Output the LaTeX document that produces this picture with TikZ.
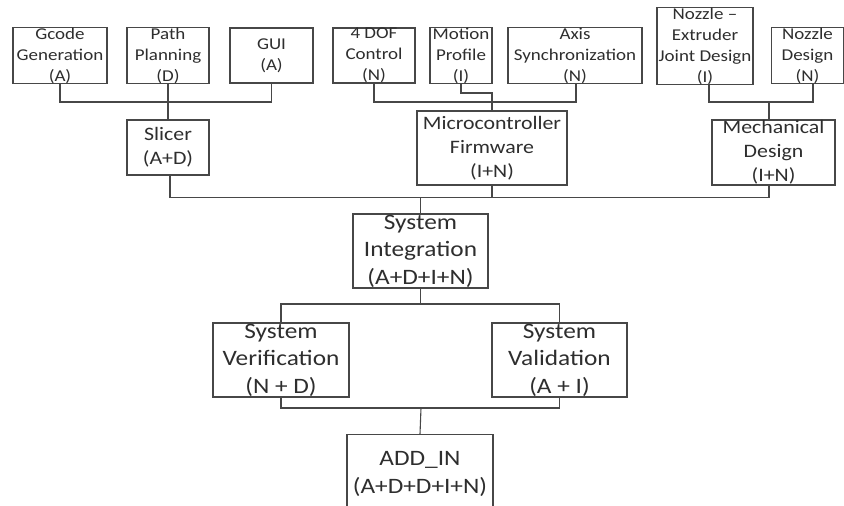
\documentclass[tikz,border=0pt]{standalone}
\usepackage{fontspec}
\setmainfont{Carlito}[FakeStretch=1.15]
\begin{document}
\begin{tikzpicture}[x=1pt,y=-1pt,
  box/.style={draw=black!72, line width=1.1pt, fill=white, inner sep=0pt, align=center, text=black!82},
  small/.style={box, font=\fontsize{16.5}{21}\selectfont},
  mid/.style={box, font=\fontsize{19}{24}\selectfont},
  big/.style={box, font=\fontsize{22}{27.5}\selectfont},
  wire/.style={draw=black!72, line width=1.1pt}]
\useasboundingbox (0,0) rectangle (844,506);
\clip (0,0) rectangle (844,506);

% leaf tasks
\node[small, minimum width=94, minimum height=55] (gcode) at (60,55.5) {Gcode\\Generation\\(A)};
\node[small, minimum width=82, minimum height=55] (path) at (168,55.5) {Path\\Planning\\(D)};
\node[small, minimum width=83, minimum height=55] (gui) at (271.5,55.5) {GUI\\(A)};
\node[small, minimum width=82, minimum height=55] (dof) at (374,55.5) {4 DOF\\Control\\(N)};
\node[small, minimum width=62, minimum height=55] (motion) at (461,55.5) {Motion\\Profile\\(I)};
\node[small, minimum width=134, minimum height=55] (axis) at (575,55.5) {Axis\\Synchronization\\(N)};
\node[small, minimum width=96, minimum height=74] (nozext) at (705,46) {Nozzle –\\Extruder\\Joint Design\\(I)};
\node[small, minimum width=72, minimum height=55] (nozzle) at (807.5,55.5) {Nozzle\\Design\\(N)};

% subsystems
\node[mid, minimum width=82, minimum height=55] (slicer) at (168,147.5) {Slicer\\(A+D)};
\node[mid, minimum width=150, minimum height=74] (mcu) at (492,148) {Microcontroller\\Firmware\\(I+N)};
\node[mid, minimum width=123, minimum height=65] (mech) at (773.5,152.5) {Mechanical\\Design\\(I+N)};

% integration and test
\node[big, minimum width=135, minimum height=74] (si) at (420.5,251) {System\\Integration\\(A+D+I+N)};
\node[big, minimum width=136, minimum height=74] (ver) at (281,360) {System\\Verification\\(N + D)};
\node[big, minimum width=135, minimum height=74] (val) at (559.5,360) {System\\Validation\\(A + I)};
\node[big, minimum width=146, minimum height=86, anchor=north] (add) at (420,434) {};
\node[big, draw=none, fill=none, anchor=north, font=\fontsize{22}{28}\selectfont] (addtxt) at (420,451) {ADD\_IN\\(A+D+D+I+N)};

% slicer group
\draw[wire] (gcode.south) |- (271.5,102) -- (gui.south);
\draw[wire] (path.south) -- (slicer.north);

% firmware group
\draw[wire] (dof.south) |- (576,102) -- ([xshift=1]axis.south);
\draw[wire] (motion.south) |- (492,93) -- (mcu.north);

% mechanical group
\draw[wire] ([xshift=4]nozext.south) |- (813,102) -- ([xshift=5.5]nozzle.south);
\draw[wire] (769,102) -- ([xshift=-4.5]mech.north);

% subsystems to integration
\draw[wire] ([xshift=2]slicer.south) |- (769,197.5) -- ([xshift=-4.5]mech.south);
\draw[wire] (mcu.south) -- (492,197.5);
\draw[wire] (420.5,197.5) -- (si.north);

% integration to test
\draw[wire] (ver.north) -- (281,304) -- (559.5,304) -- (val.north);
\draw[wire] (si.south) -- (420.5,304);

% test to final
\draw[wire] (ver.south) -- (281,408) -- (559.5,408) -- (val.south);
\draw[wire] (421,408) -- (add.north);
\end{tikzpicture}
\end{document}
